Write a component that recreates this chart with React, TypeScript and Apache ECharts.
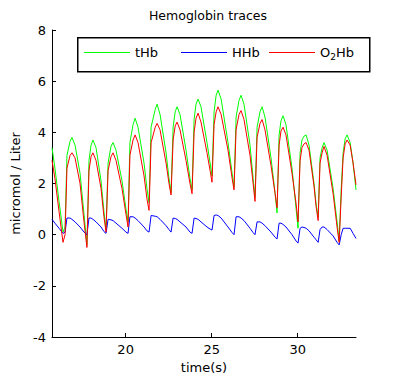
import React, { useEffect, useRef } from "react";
import * as echarts from "echarts";

const time = [
  15.72, 15.89, 16.13, 16.36, 16.48, 16.59, 16.77, 16.88, 17.06, 17.35, 17.58, 17.75,
  17.87, 17.99, 18.1, 18.28, 18.57, 18.74, 18.86,
  18.98, 19.15, 19.27, 19.44, 19.79, 20.02, 20.14,
  20.25, 20.43, 20.55, 20.72, 21.07, 21.24, 21.36,
  21.48, 21.72, 21.83, 22.0, 22.35, 22.52, 22.64,
  22.76, 22.88, 22.99, 23.16, 23.51, 23.74, 23.86,
  23.98, 24.09, 24.21, 24.38, 24.73, 24.91, 25.02,
  25.14, 25.26, 25.37, 25.55, 25.95, 26.19, 26.3,
  26.42, 26.59, 26.71, 26.88, 27.23, 27.41, 27.52,
  27.64, 27.81, 27.93, 28.1, 28.45, 28.69, 28.8,
  28.92, 29.03, 29.15, 29.32, 29.67, 29.91, 30.02,
  30.14, 30.25, 30.37, 30.49, 30.66, 30.95, 31.07, 31.19,
  31.3, 31.42, 31.53, 31.71, 32.06, 32.29, 32.41,
  32.53, 32.64, 32.76, 32.87, 33.05, 33.22, 33.39,
];

const tHb = [
  3.4, 2.6, 1.3, 0.1, 0.3, 3.1, 3.65, 3.8, 3.5, 2.4, 0.8, -0.4,
  2.9, 3.5, 3.7, 3.4, 2.1, 0.9, 0.2,
  2.8, 3.45, 3.6, 3.3, 2.1, 1.0, 0.5,
  3.6, 4.3, 4.55, 4.2, 2.8, 1.8, 1.25,
  4.2, 4.9, 5.1, 4.7, 3.2, 2.2, 1.65,
  4.2, 4.8, 5.0, 4.7, 3.3, 2.2, 1.75,
  4.5, 5.1, 5.3, 5.0, 3.6, 2.8, 2.3,
  4.8, 5.45, 5.65, 5.3, 3.6, 2.4, 1.85,
  4.6, 5.25, 5.45, 5.1, 3.5, 2.2, 1.45,
  4.2, 4.8, 5.0, 4.6, 3.0, 1.6, 0.85,
  3.9, 4.45, 4.65, 4.3, 2.6, 1.0, 0.25,
  3.2, 3.7, 3.85, 3.9, 3.5, 2.0, 1.2, 0.7,
  3.0, 3.4, 3.6, 3.3, 1.8, 0.5, -0.25,
  1.8, 3.2, 3.75, 3.9, 3.6, 2.8, 1.75,
];

const HHb = [
  0.6, 0.45, 0.25, 0.05, 0.1, 0.65, 0.65, 0.6, 0.5, 0.3, 0.1, 0.0,
  0.65, 0.65, 0.6, 0.5, 0.3, 0.12, 0.05,
  0.6, 0.58, 0.55, 0.45, 0.25, 0.1, 0.05,
  0.7, 0.7, 0.65, 0.55, 0.3, 0.15, 0.1,
  0.75, 0.72, 0.7, 0.6, 0.35, 0.2, 0.1,
  0.65, 0.63, 0.6, 0.5, 0.3, 0.1, 0.05,
  0.65, 0.63, 0.6, 0.5, 0.3, 0.22, 0.18,
  0.75, 0.77, 0.75, 0.65, 0.3, 0.08, 0.0,
  0.7, 0.7, 0.65, 0.55, 0.25, 0.08, 0.0,
  0.5, 0.5, 0.45, 0.35, 0.1, -0.1, -0.17,
  0.45, 0.45, 0.4, 0.3, 0.0, -0.25, -0.33,
  0.25, 0.3, 0.28, 0.25, 0.15, -0.1, -0.2, -0.3,
  0.2, 0.3, 0.3, 0.2, -0.05, -0.3, -0.4,
  0.0, 0.25, 0.25, 0.25, 0.25, 0.05, -0.15,
];

const O2Hb = [
  2.9, 2.2, 0.9, -0.3, 0.0, 2.6, 3.1, 3.2, 3.0, 2.0, 0.5, -0.5,
  2.5, 3.05, 3.2, 2.9, 1.8, 0.7, 0.1,
  2.5, 3.05, 3.2, 2.9, 1.8, 0.8, 0.3,
  3.1, 3.7, 3.9, 3.6, 2.3, 1.4, 0.95,
  3.6, 4.2, 4.35, 4.1, 2.8, 2.0, 1.55,
  3.7, 4.25, 4.4, 4.1, 2.9, 2.0, 1.6,
  4.0, 4.55, 4.75, 4.4, 3.2, 2.5, 2.05,
  4.3, 4.8, 5.0, 4.7, 3.3, 2.2, 1.75,
  4.1, 4.7, 4.85, 4.5, 3.1, 2.0, 1.3,
  3.8, 4.35, 4.5, 4.1, 2.7, 1.6, 1.05,
  3.5, 4.05, 4.2, 3.9, 2.4, 1.2, 0.5,
  2.9, 3.4, 3.55, 3.6, 3.3, 1.9, 1.1, 0.55,
  2.8, 3.2, 3.45, 3.1, 1.6, 0.3, -0.3,
  1.5, 3.0, 3.55, 3.7, 3.5, 2.8, 1.95,
];

const seriesNames = ["tHb", "HHb", "O2Hb"];
const seriesColors = ["#00ff00", "#0000ff", "#ff0000"];
const xTicks = [20, 25, 30];
const xRange = [15.72, 33.39];
const yRange = [-4, 8];
const yStep = 2;

const FONT = "DejaVu Sans";

export default function App() {
  const ref = useRef<HTMLDivElement>(null);
  useEffect(() => {
    document.body.style.margin = "0";
    const chart = echarts.init(ref.current!, null, { renderer: "svg" });
    const values = [tHb, HHb, O2Hb];
    const legendLefts = [84, 181, 269];
    const option: any = {
      animation: false,
      backgroundColor: "#ffffff",
      textStyle: { fontFamily: FONT, color: "#000" },
      title: {
        text: "Hemoglobin traces",
        left: 203,
        top: 4,
        textAlign: "center",
        textStyle: { fontFamily: FONT, fontSize: 12.5, fontWeight: "normal", color: "#000" },
      },
      grid: { left: 52, right: 38, top: 30, bottom: 43, containLabel: false },
      xAxis: {
        type: "value",
        min: xRange[0],
        max: xRange[1],
        name: "time(s)",
        nameLocation: "middle",
        nameGap: 21,
        nameTextStyle: { fontFamily: FONT, fontSize: 13, color: "#000" },
        axisLine: { show: true, onZero: false, lineStyle: { color: "#000", width: 1 } },
        axisTick: { show: true, inside: true, length: 4, customValues: xTicks, lineStyle: { color: "#000" } },
        axisLabel: { customValues: xTicks, color: "#000", fontFamily: FONT, fontSize: 13, margin: 6 },
        splitLine: { show: false },
      },
      yAxis: {
        type: "value",
        min: yRange[0],
        max: yRange[1],
        interval: yStep,
        name: "micromol / Liter",
        nameLocation: "middle",
        nameGap: 27,
        nameTextStyle: { fontFamily: FONT, fontSize: 13, color: "#000" },
        axisLine: { show: true, lineStyle: { color: "#000", width: 1 } },
        axisTick: { show: true, inside: true, length: 4, lineStyle: { color: "#000" } },
        axisLabel: { color: "#000", fontFamily: FONT, fontSize: 13, margin: 6 },
        splitLine: { show: false },
      },
      legend: seriesNames.map((n, i) => ({
        data: [n],
        left: legendLefts[i],
        top: 46,
        padding: 0,
        itemWidth: 46,
        itemHeight: 1,
        icon: "rect",
        itemGap: 0,
        formatter: (name: string) => (name === "O2Hb" ? "O{sub|2}Hb" : name),
        textStyle: {
          fontFamily: FONT,
          fontSize: 13,
          color: "#000",
          rich: { sub: { fontFamily: FONT, fontSize: 9, padding: [8, 0, 0, 0], color: "#000" } },
        },
      })),
      graphic: [
        {
          type: "rect",
          left: 77,
          top: 37,
          z: 3,
          shape: { width: 292, height: 34 },
          style: { fill: "#ffffff", stroke: "#000", lineWidth: 1.5 },
        },
      ],
      series: seriesNames.map((n, i) => ({
        name: n,
        type: "line",
        data: time.map((t, k) => [t, values[i][k]]),
        showSymbol: false,
        symbol: "none",
        lineStyle: { color: seriesColors[i], width: 1 },
        itemStyle: { color: seriesColors[i] },
        z: 2 + i * 0.1,
      })),
    };
    chart.setOption(option);
    return () => chart.dispose();
  }, []);
  return (
    <div
      ref={ref}
      style={{ position: "absolute", left: 0, top: 0, width: 394, height: 380, background: "#fff" }}
    />
  );
}
